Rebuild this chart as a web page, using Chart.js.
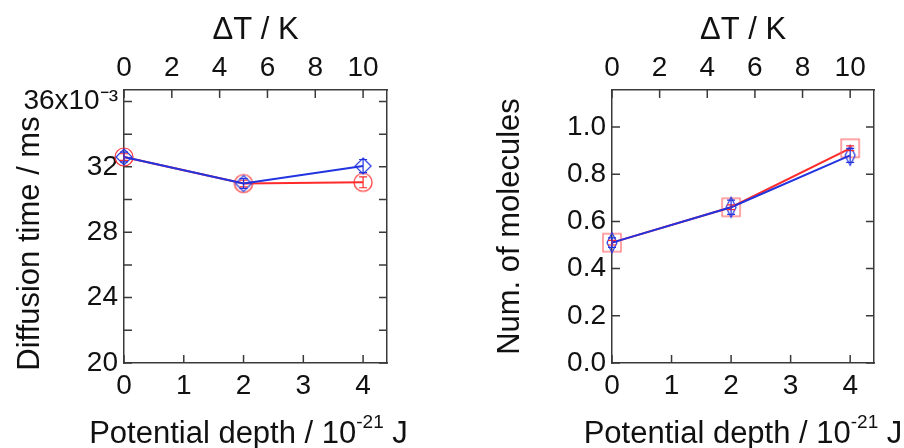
<!DOCTYPE html>
<html>
<head>
<meta charset="utf-8">
<script src="https://cdn.jsdelivr.net/npm/chart.js@4.4.1/dist/chart.umd.min.js"></script>
<style>
  html, body { margin: 0; padding: 0; background: #fff; }
  #wrap { position: relative; width: 904px; height: 448px; }
  canvas { position: absolute; top: 0; }
  #time-chart { left: 0; }
  #molecule-chart { left: 452px; }
</style>
</head>
<body>
<div id="wrap">
  <canvas id="time-chart" width="452" height="448"></canvas>
  <canvas id="molecule-chart" width="452" height="448"></canvas>
</div>
<script>
// data
const potentialDepth = [0, 2, 4];            // 10^-21 J
const timeRed = [32.6, 30.98, 31.05];        // ms x10^-3
const timeRedErr = [0.2, 0.2, 0.33];
const timeBlue = [32.6, 30.98, 32.05];
const timeBlueErr = [0.3, 0.3, 0.4];
const moleculesRed = [0.51, 0.66, 0.91];
const moleculesRedErr = [0.01, 0.01, 0.01];
const moleculesBlue = [0.51, 0.66, 0.88];
const moleculesBlueErr = [0.02, 0.03, 0.03];

const depthTicks = [0, 1, 2, 3, 4];
const deltaTTicks = [0, 2, 4, 6, 8, 10];
const timeTickLabels = ['20', '24', '28', '32', '36x10\u207B\u00B3'];
const moleculeTickLabels = ['0.0', '0.2', '0.4', '0.6', '0.8', '1.0'];

// bottom title pieces: text, font size, raise above baseline
const depthTitle = [['Potential depth / 10', 31, 0], ['-21', 19, 15], [' J', 31, 0]];

const FONT = '"Liberation Sans", Arial, sans-serif';
Chart.defaults.font.family = FONT;
Chart.defaults.color = '#111';

const RED = '#ff2a2a';
const BLUE = '#2233e0';
const FRAME = '#3a3a3a';

function markerCanvas(w, h, draw) {
    const c = document.createElement('canvas');
    c.width = w; c.height = h;
    const ctx = c.getContext('2d');
    draw(ctx, w / 2, h / 2);
    return c;
}
const redCircle = markerCanvas(22, 22, (ctx, cx, cy) => {
    ctx.strokeStyle = RED; ctx.lineWidth = 1.2;
    ctx.beginPath(); ctx.arc(cx, cy, 9, 0, Math.PI * 2); ctx.stroke();
});
const redSquare = markerCanvas(22, 22, (ctx, cx, cy) => {
    ctx.strokeStyle = '#ff6a6a'; ctx.lineWidth = 1.2;
    ctx.strokeRect(cx - 9, cy - 9, 18, 18);
});
function diamond(hw, hh) {
    return markerCanvas(hw * 2 + 4, hh * 2 + 4, (ctx, cx, cy) => {
        ctx.strokeStyle = BLUE; ctx.lineWidth = 1.2;
        ctx.beginPath();
        ctx.moveTo(cx, cy - hh); ctx.lineTo(cx + hw, cy);
        ctx.lineTo(cx, cy + hh); ctx.lineTo(cx - hw, cy);
        ctx.closePath(); ctx.stroke();
    });
}

const inwardTicks = {
    id: 'inwardTicks',
    beforeDatasetsDraw(chart) {
        const {ctx, chartArea: a, scales} = chart;
        const len = 8;
        ctx.save();
        ctx.strokeStyle = FRAME;
        ctx.lineWidth = 1.5;
        ctx.beginPath();
        scales.x.ticks.forEach(t => {
            const p = scales.x.getPixelForValue(t.value);
            ctx.moveTo(p, a.bottom); ctx.lineTo(p, a.bottom - len);
        });
        scales.xTop.ticks.forEach(t => {
            const p = scales.xTop.getPixelForValue(t.value);
            ctx.moveTo(p, a.top); ctx.lineTo(p, a.top + len);
        });
        scales.y.ticks.forEach(t => {
            const p = scales.y.getPixelForValue(t.value);
            ctx.moveTo(a.left, p); ctx.lineTo(a.left + len, p);
            ctx.moveTo(a.right, p); ctx.lineTo(a.right - len, p);
        });
        ctx.stroke();
        ctx.restore();
    }
};

const errorBars = {
    id: 'errorBars',
    afterDatasetsDraw(chart) {
        const {ctx, scales: {y}} = chart;
        ctx.save();
        chart.data.datasets.forEach((ds, i) => {
            const meta = chart.getDatasetMeta(i);
            ctx.strokeStyle = ds.borderColor;
            ctx.lineWidth = 1.2;
            ctx.beginPath();
            meta.data.forEach((pt, j) => {
                const e = ds.errors[j];
                const top = y.getPixelForValue(ds.data[j].y + e);
                const bot = y.getPixelForValue(ds.data[j].y - e);
                ctx.moveTo(pt.x, top); ctx.lineTo(pt.x, bot);
                ctx.moveTo(pt.x - 4, top); ctx.lineTo(pt.x + 4, top);
                ctx.moveTo(pt.x - 4, bot); ctx.lineTo(pt.x + 4, bot);
            });
            ctx.stroke();
        });
        ctx.restore();
    }
};

// axis titles that chart.js would squeeze (superscript, off-centre label)
const axisTitles = {
    id: 'axisTitles',
    afterDraw(chart, args, opts) {
        const {ctx, chartArea: a} = chart;
        ctx.save();
        ctx.fillStyle = '#111';
        ctx.textAlign = 'left';
        ctx.textBaseline = 'alphabetic';
        const widths = depthTitle.map(([txt, size]) => {
            ctx.font = size + 'px ' + FONT;
            return ctx.measureText(txt).width;
        });
        let x = (a.left + a.right) / 2 + opts.xShift - widths.reduce((s, w) => s + w, 0) / 2;
        depthTitle.forEach(([txt, size, rise], i) => {
            ctx.font = size + 'px ' + FONT;
            ctx.fillText(txt, x, a.bottom + 80 - rise);
            x += widths[i];
        });
        if (opts.yText) {
            ctx.translate(opts.yX, (a.top + a.bottom) / 2 + opts.yShift);
            ctx.rotate(-Math.PI / 2);
            ctx.textAlign = 'center';
            ctx.textBaseline = 'middle';
            ctx.font = '31px ' + FONT;
            ctx.fillText(opts.yText, 0, 0);
        }
        ctx.restore();
    }
};

function points(ys) {
    return potentialDepth.map((x, i) => ({x: x, y: ys[i]}));
}

function makeScales(cfg) {
    const tickFont = {size: 28};
    const titleFont = {size: 31, lineHeight: 1};
    return {
        x: {
            type: 'linear', position: 'bottom', min: 0, max: 4.4,
            grid: {display: false, drawTicks: false},
            border: {display: true, color: FRAME, width: 1.5},
            ticks: {stepSize: 1, includeBounds: false, font: tickFont, padding: 6,
                    maxRotation: 0, autoSkip: false,
                    callback: v => depthTicks.includes(v) ? String(v) : ''},
            afterFit: s => { s.height = 85; }
        },
        xTop: {
            type: 'linear', position: 'top', min: 0, max: 11,
            grid: {display: false, drawTicks: false},
            border: {display: true, color: FRAME, width: 1.5},
            ticks: {stepSize: 2, includeBounds: false, font: tickFont, padding: 5,
                    maxRotation: 0, autoSkip: false,
                    callback: v => deltaTTicks.includes(v) ? String(v) : ''},
            title: {display: true, text: '\u0394T / K', font: titleFont, color: '#111',
                    padding: {top: 15, bottom: 0}},
            afterFit: s => { s.height = 90; }
        },
        y: {
            type: 'linear', position: 'left', min: cfg.yMin, max: cfg.yMax,
            grid: {display: false, drawTicks: false},
            border: {display: true, color: FRAME, width: 1.5},
            ticks: {stepSize: cfg.step, includeBounds: false, font: tickFont, padding: 6,
                    autoSkip: false, callback: cfg.label},
            title: {display: !!cfg.title, text: cfg.title || '', font: titleFont, color: '#111',
                    padding: {top: cfg.titlePad || 0, bottom: 0}},
            afterFit: s => { s.width = cfg.leftWidth; }
        },
        yRight: {
            type: 'linear', position: 'right', min: cfg.yMin, max: cfg.yMax,
            grid: {display: false, drawTicks: false},
            border: {display: true, color: FRAME, width: 1.5},
            ticks: {display: false},
            afterFit: s => { s.width = cfg.rightWidth; }
        }
    };
}

function lineSet(label, ys, errs, color, marker, order) {
    return {
        label: label, data: points(ys), errors: errs,
        borderColor: color, borderWidth: 2, backgroundColor: 'transparent',
        pointStyle: marker, pointRadius: 9, pointHoverRadius: 9,
        order: order, clip: false, tension: 0
    };
}

function baseOptions(titleOpts) {
    return {
        responsive: false,
        animation: false,
        layout: {padding: 0},
        plugins: {legend: {display: false}, tooltip: {enabled: false}, axisTitles: titleOpts}
    };
}

new Chart(document.querySelector('#time-chart').getContext('2d'), {
    type: 'line',
    data: {
        datasets: [
            lineSet('red', timeRed, timeRedErr, RED, redCircle, 1),
            lineSet('blue', timeBlue, timeBlueErr, BLUE, diamond(8, 8), 0)
        ]
    },
    options: Object.assign(baseOptions({xShift: -7, yText: 'Diffusion time / ms', yX: 30, yShift: 17}), {
        scales: makeScales({
            yMin: 20, yMax: 36.7, step: 2,
            label: v => (v % 4 === 0 ? timeTickLabels[(v - 20) / 4] : ''),
            leftWidth: 124, rightWidth: 65
        })
    }),
    plugins: [inwardTicks, errorBars, axisTitles]
});

new Chart(document.querySelector('#molecule-chart').getContext('2d'), {
    type: 'line',
    data: {
        datasets: [
            lineSet('red', moleculesRed, moleculesRedErr, RED, redSquare, 1),
            lineSet('blue', moleculesBlue, moleculesBlueErr, BLUE, diamond(5, 10), 0)
        ]
    },
    options: Object.assign(baseOptions({xShift: 0}), {
        scales: makeScales({
            yMin: 0, yMax: 1.157, step: 0.2,
            label: (v, i) => moleculeTickLabels[i],
            title: 'Num. of molecules', titlePad: 43,
            leftWidth: 160, rightWidth: 30
        })
    }),
    plugins: [inwardTicks, errorBars, axisTitles]
});
</script>
</body>
</html>
